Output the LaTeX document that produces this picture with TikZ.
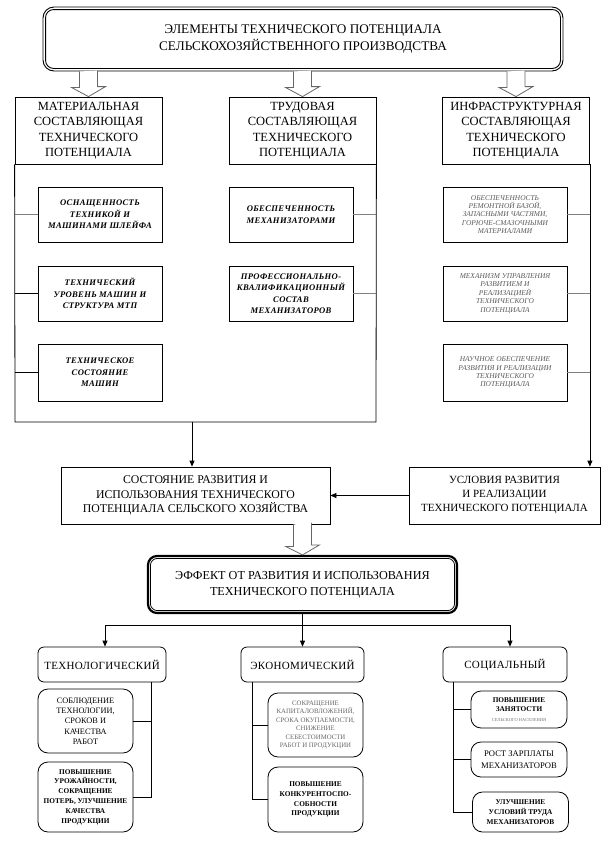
\documentclass[tikz,border=0pt]{standalone}
\usepackage{fontspec}
\setmainfont{Liberation Serif}
\usetikzlibrary{calc,arrows.meta}
\begin{document}
\begin{tikzpicture}[x=1pt,y=-1pt,
  every node/.style={align=center, inner sep=1pt},
  box/.style={draw, line width=0.8pt},
  rbox/.style={draw, line width=0.8pt, rounded corners=6pt},
  sbox/.style={draw, line width=0.8pt, rounded corners=10pt},
  lnk/.style={line width=0.8pt},
  glnk/.style={line width=1.1pt, draw=black!50},
  arr/.style={line width=0.8pt, -{Triangle[length=6pt,width=5pt]}},
  hollow/.style={draw=black!60, line width=0.8pt, fill=white},
  hfont/.style={font=\fontsize{12.5}{15.5}\selectfont},
  ifont/.style={font=\fontsize{8.6}{11.5}\selectfont\itshape\bfseries\addfontfeatures{LetterSpace=4}},
  gfont/.style={font=\fontsize{7.4}{8.4}\selectfont\itshape, text=black!65},
  bfont/.style={font=\fontsize{11}{13}\selectfont\addfontfeatures{LetterSpace=3}},
  sfont/.style={font=\fontsize{8.3}{10.3}\selectfont},
  tfont/.style={font=\fontsize{7.3}{9.8}\selectfont\bfseries},
]
\useasboundingbox (0,0) rectangle (610,844);

% top
\node[draw, line width=0.9pt, rounded corners=11pt, minimum width=520pt, minimum height=64pt,
      font=\fontsize{13.2}{17}\selectfont] (top) at (303,39)
  {ЭЛЕМЕНТЫ ТЕХНИЧЕСКОГО ПОТЕНЦИАЛА\\СЕЛЬСКОХОЗЯЙСТВЕННОГО ПРОИЗВОДСТВА};
\draw[line width=0.9pt, rounded corners=8pt] ($(top.south west)+(3,-3)$) rectangle ($(top.north east)+(-3,3)$);

% headers
\node[box, minimum width=147pt, minimum height=67pt, hfont] (hL) at (88.5,130.5)
  {МАТЕРИАЛЬНАЯ\\СОСТАВЛЯЮЩАЯ\\ТЕХНИЧЕСКОГО\\ПОТЕНЦИАЛА};
\node[box, minimum width=147pt, minimum height=67pt, hfont] (hM) at (302.5,130.5)
  {ТРУДОВАЯ\\СОСТАВЛЯЮЩАЯ\\ТЕХНИЧЕСКОГО\\ПОТЕНЦИАЛА};
\node[box, minimum width=147pt, minimum height=67pt, hfont] (hR) at (516,130.5)
  {ИНФРАСТРУКТУРНАЯ\\СОСТАВЛЯЮЩАЯ\\ТЕХНИЧЕСКОГО\\ПОТЕНЦИАЛА};

% hollow arrows
\foreach \h in {hL,hM,hR}{
  \draw[hollow] ($(\h.north |- top.south)+(-9,0)$) -- ++(0,16) -- ++(-8,0) -- (\h.north)
     -- ++(17,-10) -- ++(-8,0) -- ++(0,-16);
}

% left sub boxes
\node[box, minimum width=124pt, minimum height=55pt, ifont] (l1) at (100,214.5)
  {ОСНАЩЕННОСТЬ\\ТЕХНИКОЙ И\\МАШИНАМИ ШЛЕЙФА};
\node[box, minimum width=124pt, minimum height=55pt, ifont] (l2) at (100,293.5)
  {ТЕХНИЧЕСКИЙ\\УРОВЕНЬ МАШИН И\\СТРУКТУРА МТП};
\node[box, minimum width=124pt, minimum height=57pt, ifont] (l3) at (100,372.5)
  {ТЕХНИЧЕСКОЕ\\СОСТОЯНИЕ\\МАШИН};

% middle sub boxes
\node[box, minimum width=124pt, minimum height=55pt, ifont] (m1) at (291,214.5)
  {ОБЕСПЕЧЕННОСТЬ\\МЕХАНИЗАТОРАМИ};
\node[box, minimum width=124pt, minimum height=55pt, ifont] (m2) at (291,293.5)
  {ПРОФЕССИОНАЛЬНО-\\КВАЛИФИКАЦИОННЫЙ\\СОСТАВ\\МЕХАНИЗАТОРОВ};

% right sub boxes
\node[box, minimum width=124pt, minimum height=55pt, gfont] (r1) at (505,214.5)
  {ОБЕСПЕЧЕННОСТЬ\\РЕМОНТНОЙ БАЗОЙ,\\ЗАПАСНЫМИ ЧАСТЯМИ,\\ГОРЮЧЕ-СМАЗОЧНЫМИ\\МАТЕРИАЛАМИ};
\node[box, minimum width=124pt, minimum height=55pt, gfont] (r2) at (505,293.5)
  {МЕХАНИЗМ УПРАВЛЕНИЯ\\РАЗВИТИЕМ И\\РЕАЛИЗАЦИЕЙ\\ТЕХНИЧЕСКОГО\\ПОТЕНЦИАЛА};
\node[box, minimum width=124pt, minimum height=57pt, gfont] (r3) at (505,372.5)
  {НАУЧНОЕ ОБЕСПЕЧЕНИЕ\\РАЗВИТИЯ И РЕАЛИЗАЦИИ\\ТЕХНИЧЕСКОГО\\ПОТЕНЦИАЛА};

% middle level
\node[box, minimum width=269pt, minimum height=57pt, font=\fontsize{11.8}{14.3}\selectfont] (state) at (195.5,495.5)
  {СОСТОЯНИЕ РАЗВИТИЯ И\\ИСПОЛЬЗОВАНИЯ ТЕХНИЧЕСКОГО\\ПОТЕНЦИАЛА СЕЛЬСКОГО ХОЗЯЙСТВА};
\node[box, minimum width=191pt, minimum height=57pt, font=\fontsize{11}{14}\selectfont] (cond) at (504.5,495.5)
  {УСЛОВИЯ РАЗВИТИЯ\\И РЕАЛИЗАЦИИ\\ТЕХНИЧЕСКОГО ПОТЕНЦИАЛА};

% frame of left + middle columns
\coordinate (fBL) at (15,422);
\coordinate (fBR) at (376,422);
\coordinate (fA) at (192,422);
\draw[lnk] (hL.south west) -- (fBL) -- (fBR) -- (hM.south east);
\draw[arr] (fA) -- (fA |- state.north);
\draw[arr] (hR.south east) -- (hR.south east |- cond.north);
\draw[arr] (cond.west) -- (state.east);

% connectors to sub boxes
\draw[glnk] (l1.west) -- (l1.west -| hL.west);
\draw[lnk] (l2.west) -- (l2.west -| hL.west);
\draw[lnk] (l3.west) -- (l3.west -| hL.west);
\draw[glnk] (m1.east) -- (m1.east -| hM.east);
\draw[glnk] (m2.east) -- (m2.east -| hM.east);
\draw[glnk] (r1.east) -- (r1.east -| hR.east);
\draw[glnk] (r2.east) -- (r2.east -| hR.east);
\draw[glnk] (r3.east) -- (r3.east -| hR.east);

% effect
\node[draw, line width=2.2pt, rounded corners=9pt, minimum width=309pt, minimum height=57pt,
      font=\fontsize{12.2}{16}\selectfont] (effect) at (302.5,584.5)
  {ЭФФЕКТ ОТ РАЗВИТИЯ И ИСПОЛЬЗОВАНИЯ\\ТЕХНИЧЕСКОГО ПОТЕНЦИАЛА};
\draw[line width=0.8pt, rounded corners=7pt] ($(effect.south west)+(3.5,-3.5)$) rectangle ($(effect.north east)+(-3.5,3.5)$);
\draw[hollow] ($(effect.north |- state.south)+(-9,0)$) -- ++(0,22) -- ++(-8,0) -- (effect.north)
     -- ++(17,-10) -- ++(-8,0) -- ++(0,-22);

% bottom headers
\node[rbox, minimum width=128pt, minimum height=35pt, bfont] (tech) at (102,664.5) {ТЕХНОЛОГИЧЕСКИЙ};
\node[rbox, minimum width=123pt, minimum height=35pt, bfont] (econ) at (302.5,664.5) {ЭКОНОМИЧЕСКИЙ};
\node[rbox, minimum width=124pt, minimum height=35pt, bfont] (soc) at (505,664.5) {СОЦИАЛЬНЫЙ};

\coordinate (bl) at (105,625);
\coordinate (br) at (510,625);
\draw[lnk] (bl) -- (br);
\draw[arr] (bl) -- (bl |- tech.north);
\draw[arr] (br) -- (br |- soc.north);
\draw[arr] (effect.south) -- (econ.north);

% technological subs
\node[sbox, minimum width=95pt, minimum height=64pt, sfont] (t1) at (85.5,721)
  {СОБЛЮДЕНИЕ\\ТЕХНОЛОГИИ,\\СРОКОВ И\\КАЧЕСТВА\\РАБОТ};
\node[sbox, minimum width=95pt, minimum height=70pt, tfont] (t2) at (85.5,797)
  {ПОВЫШЕНИЕ\\УРОЖАЙНОСТИ,\\СОКРАЩЕНИЕ\\ПОТЕРЬ, УЛУЧШЕНИЕ\\КАЧЕСТВА\\ПРОДУКЦИИ};
\coordinate (tv) at (151,682);
\draw[lnk] (tv) |- (t2.east);
\draw[lnk] (t1.east) -- (t1.east -| tv);

% economic subs
\node[sbox, minimum width=95pt, minimum height=64pt, font=\fontsize{6.8}{8.4}\selectfont, text=black!60] (e1) at (315.5,725)
  {СОКРАЩЕНИЕ\\КАПИТАЛОВЛОЖЕНИЙ,\\СРОКА ОКУПАЕМОСТИ,\\СНИЖЕНИЕ\\СЕБЕСТОИМОСТИ\\РАБОТ И ПРОДУКЦИИ};
\node[sbox, minimum width=95pt, minimum height=65pt, tfont] (e2) at (315.5,799.5)
  {ПОВЫШЕНИЕ\\КОНКУРЕНТОСПО-\\СОБНОСТИ\\ПРОДУКЦИИ};
\coordinate (ev) at (252,682);
\draw[lnk] (ev) |- (e2.west);
\draw[lnk] (e1.west) -- (e1.west -| ev);

% social subs
\node[sbox, minimum width=96pt, minimum height=37pt, tfont] (s1) at (519,709.5)
  {ПОВЫШЕНИЕ\\ЗАНЯТОСТИ\\{\fontsize{4.5}{6}\selectfont\mdseries\color{black!55}СЕЛЬСКОГО НАСЕЛЕНИЯ}};
\node[sbox, minimum width=96pt, minimum height=35pt, font=\fontsize{8.6}{12}\selectfont] (s2) at (519,759.5)
  {РОСТ ЗАРПЛАТЫ\\МЕХАНИЗАТОРОВ};
\node[sbox, minimum width=96pt, minimum height=40pt, tfont] (s3) at (520.5,812)
  {УЛУЧШЕНИЕ\\УСЛОВИЙ ТРУДА\\МЕХАНИЗАТОРОВ};
\coordinate (sv) at (453,682);
\draw[lnk] (sv) |- (s3.west);
\draw[lnk] (s1.west) -- (s1.west -| sv);
\draw[lnk] (s2.west) -- (s2.west -| sv);
\end{tikzpicture}
\end{document}
